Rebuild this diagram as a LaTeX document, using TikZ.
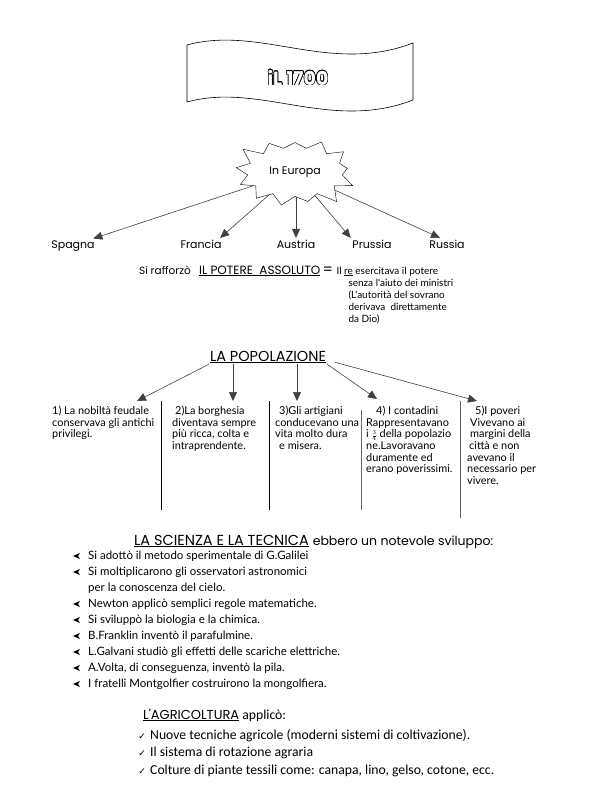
\documentclass[tikz,border=0pt]{standalone}
\usepackage{fontspec}
\setmainfont{Carlito}
\newfontfamily\gothic{Poppins}
\newfontfamily\lato{Lato}
\newfontfamily\symbfont{DejaVu Sans}
\usepackage{contour}
\usetikzlibrary{arrows.meta, positioning, calc, shapes.symbols}

\tikzset{
  tri/.style={-{Triangle[length=9pt,width=8pt]}, draw=black!75, semithick},
  head/.style={font=\gothic\fontsize{14.5}{16}\selectfont, inner sep=1pt},
  country/.style={font=\gothic\fontsize{11}{13}\selectfont, inner sep=1.5pt},
  small/.style={font=\lato\fontsize{10}{12}\selectfont, inner sep=0pt},
  coltext/.style={font=\lato\fontsize{10.9}{11.6}\selectfont, align=left, anchor=north west, inner sep=0pt},
  sepline/.style={line width=0.8pt},
  sciitem/.style={font=\lato\fontsize{11.5}{13}\selectfont, anchor=base west, inner sep=0pt},
  agritem/.style={font=\fontsize{13.7}{15}\selectfont, anchor=base west, inner sep=0pt},
}

\begin{document}
\begin{tikzpicture}[x=1pt, y=-1pt]
\useasboundingbox (0,0) rectangle (590,799);

% banner
\draw[line width=0.6pt] (187,45) .. controls (260,25) and (330,75) .. (413,43) -- (413,100)
  .. controls (330,132) and (260,82) .. (187,102) -- cycle;
\node (title) at (298,78) {\contourlength{0.6pt}\contour{black}{\textcolor{white}{\gothic\bfseries\fontsize{19}{22}\selectfont iL 1700}}};

% In Europa
\node[starburst, draw, fill=white, starburst points=13, starburst point height=16pt, random starburst=3,
  inner xsep=8pt, inner ysep=12pt,
  font=\gothic\fontsize{11}{13}\selectfont] (eu) at (295,172) {In Europa};
\node[country, anchor=base] (spagna) at (73,248) {Spagna};
\node[country, anchor=base] (francia) at (201,248) {Francia};
\node[country, anchor=base] (austria) at (296,248) {Austria};
\node[country, anchor=base] (prussia) at (372,248) {Prussia};
\node[country, anchor=base] (russia) at (447,248) {Russia};
\draw[tri] (eu) -- ([xshift=-3pt]spagna.north east);
\draw[tri] (eu) -- ([xshift=-3pt]francia.north east);
\draw[tri] (eu.south -| austria.north) -- (austria.north);
\draw[tri] (eu) -- (prussia.north west);
\draw[tri] (eu) -- ([xshift=-7pt]russia.north);

% il potere assoluto
\node[font=\gothic\fontsize{10.5}{13}\selectfont, anchor=base east, inner sep=0pt] (raff) at (191,274) {Si rafforzò};
\node[head, font=\gothic\fontsize{12}{14}\selectfont, anchor=base west, inner sep=0pt] (potere) at (199,274) {\underline{IL POTERE\ \ ASSOLUTO}};
\node[head, anchor=base west, inner sep=0pt] (uguale) at ([xshift=2pt]potere.base east) {=};
\node[small, anchor=base west] (re) at ([xshift=3pt]uguale.base east) {Il \underline{re} esercitava il potere};
\foreach \riga [count=\i] in {{senza l'aiuto dei ministri}, {(L'autorità del sovrano}, {derivava\ \ direttamente}, {da Dio)}}
  \node[small, anchor=base west] (riga\i) at ($(re.base west)+(12,12*\i)$) {\riga};

% la popolazione
\node[head, anchor=base] (pop) at (268,361) {\underline{LA POPOLAZIONE}};
\coordinate (p1) at (137,401);
\coordinate (p2) at (233,401);
\coordinate (p3) at (297,401);
\coordinate (p4) at (377,399);
\coordinate (p5) at (477,401);
\draw[tri] (pop.south west) -- (p1);
\draw[tri] (p2 |- pop.south) -- (p2);
\draw[tri] (p3 |- pop.south) -- (p3);
\draw[tri] (pop.south east) -- (p4);
\draw[tri] ([xshift=8pt,yshift=2pt]pop.south east) -- (p5);

\node[coltext] (col1) at (52,406) {1) La nobiltà feudale\\conservava gli antichi\\privilegi.};
\node[coltext] (col2) at (172,406) {\hspace*{3pt}2)La borghesia\\diventava sempre\\più ricca, colta e\\intraprendente.};
\node[coltext] (col3) at (275,406) {\hspace*{4pt}3)Gli artigiani\\conducevano una\\vita molto dura\\\hspace*{4pt}e misera.};
\node[coltext] (col4) at (366,406) {\hspace*{10pt}4) I contadini\\Rappresentavano\\i \raisebox{0pt}[0.9ex][0ex]{\scalebox{0.8}{$\frac{3}{4}$}} della popolazio\\ne.Lavoravano\\duramente ed\\erano poverissimi.};
\node[coltext] (col5) at (467,406) {\hspace*{8pt}5)I poveri\\\hspace*{3pt}Vivevano ai\\\hspace*{3pt}margini della\\\hspace*{2pt}città e non\\avevano il\\necessario per\\vivere.};
\draw[sepline] (161,401) -- (161,510);
\draw[sepline] (269,401) -- (269,510);
\draw[sepline, black!60] (361,410) -- (361,510);
\draw[sepline, black!60] (460,401) -- (460,518);

% la scienza e la tecnica
\node[head, anchor=base west] (sci) at (133,545) {\underline{LA SCIENZA E LA TECNICA} {\fontsize{12.5}{14}\selectfont ebbero un notevole sviluppo:}};
\foreach \voce/\b [count=\i from 0] in {{Si adottò il metodo sperimentale di G.Galilei}/1,
    {Si moltiplicarono gli osservatori astronomici}/1, {per la conoscenza del cielo.}/0,
    {Newton applicò semplici regole matematiche.}/1, {Si sviluppò la biologia e la chimica.}/1,
    {B.Franklin inventò il parafulmine.}/1, {L.Galvani studiò gli effetti delle scariche elettriche.}/1,
    {A.Volta, di conseguenza, inventò la pila.}/1, {I fratelli Montgolfier costruirono la mongolfiera.}/1}{
  \node[sciitem] (voce\i) at (88,559+16*\i) {\voce};
  \ifnum\b=1
    \fill ([shift={(-15pt,3pt)}]voce\i.base west) -- ++(7pt,3pt) -- ++(-2pt,-3pt) -- ++(2pt,-3pt) -- cycle;
  \fi
}

% l'agricoltura
\node[agritem] (agri) at (143,719) {{\gothic\fontsize{13}{15}\selectfont\underline{L'AGRICOLTURA}} applicò:};
\foreach \voce [count=\i from 0] in {{Nuove tecniche agricole (moderni sistemi di coltivazione).},
    {Il sistema di rotazione agraria}, {Colture di piante tessili come: canapa, lino, gelso, cotone, ecc.}}{
  \node[agritem] (agr\i) at (150,739+17.5*\i) {\voce};
  \node[font=\symbfont\fontsize{9}{10}\selectfont, anchor=base east, inner sep=0pt] at ([xshift=-4pt]agr\i.base west) {✓};
}
\end{tikzpicture}
\end{document}
